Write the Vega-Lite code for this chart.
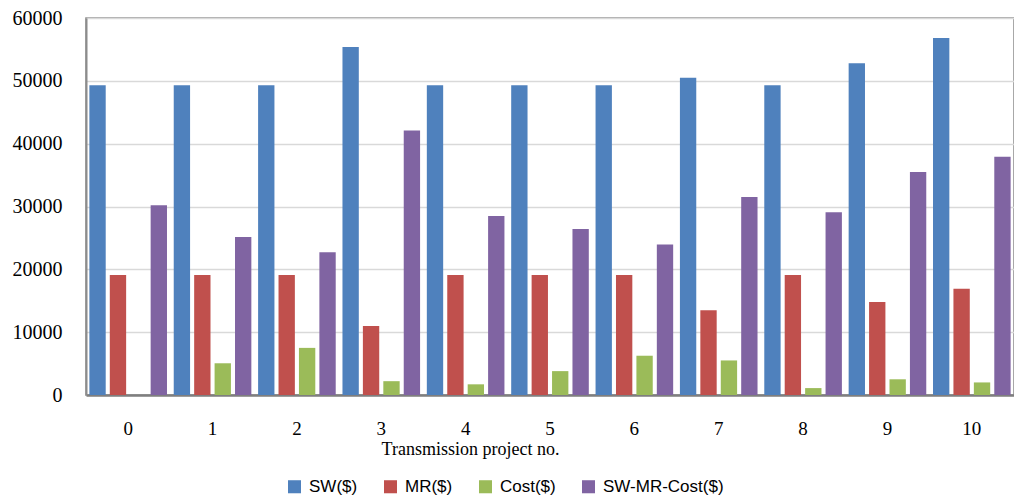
{
  "$schema": "https://vega.github.io/schema/vega-lite/v6.json",
  "width": 928,
  "height": 377,
  "padding": {"left": 12, "top": 8, "right": 0, "bottom": 0},
  "background": "white",
  "config": {
    "view": {"stroke": "#8c8c8c", "strokeWidth": 1.5}
  },
  "data": {
    "values": [
      {"project": "0", "series": "SW($)", "value": 49300},
      {"project": "0", "series": "MR($)", "value": 19100},
      {"project": "0", "series": "Cost($)", "value": 0},
      {"project": "0", "series": "SW-MR-Cost($)", "value": 30200},
      {"project": "1", "series": "SW($)", "value": 49300},
      {"project": "1", "series": "MR($)", "value": 19100},
      {"project": "1", "series": "Cost($)", "value": 5050},
      {"project": "1", "series": "SW-MR-Cost($)", "value": 25150},
      {"project": "2", "series": "SW($)", "value": 49300},
      {"project": "2", "series": "MR($)", "value": 19100},
      {"project": "2", "series": "Cost($)", "value": 7500},
      {"project": "2", "series": "SW-MR-Cost($)", "value": 22700},
      {"project": "3", "series": "SW($)", "value": 55400},
      {"project": "3", "series": "MR($)", "value": 11000},
      {"project": "3", "series": "Cost($)", "value": 2200},
      {"project": "3", "series": "SW-MR-Cost($)", "value": 42100},
      {"project": "4", "series": "SW($)", "value": 49300},
      {"project": "4", "series": "MR($)", "value": 19100},
      {"project": "4", "series": "Cost($)", "value": 1700},
      {"project": "4", "series": "SW-MR-Cost($)", "value": 28500},
      {"project": "5", "series": "SW($)", "value": 49300},
      {"project": "5", "series": "MR($)", "value": 19100},
      {"project": "5", "series": "Cost($)", "value": 3800},
      {"project": "5", "series": "SW-MR-Cost($)", "value": 26400},
      {"project": "6", "series": "SW($)", "value": 49300},
      {"project": "6", "series": "MR($)", "value": 19100},
      {"project": "6", "series": "Cost($)", "value": 6250},
      {"project": "6", "series": "SW-MR-Cost($)", "value": 23950},
      {"project": "7", "series": "SW($)", "value": 50500},
      {"project": "7", "series": "MR($)", "value": 13500},
      {"project": "7", "series": "Cost($)", "value": 5500},
      {"project": "7", "series": "SW-MR-Cost($)", "value": 31500},
      {"project": "8", "series": "SW($)", "value": 49300},
      {"project": "8", "series": "MR($)", "value": 19100},
      {"project": "8", "series": "Cost($)", "value": 1100},
      {"project": "8", "series": "SW-MR-Cost($)", "value": 29100},
      {"project": "9", "series": "SW($)", "value": 52800},
      {"project": "9", "series": "MR($)", "value": 14800},
      {"project": "9", "series": "Cost($)", "value": 2500},
      {"project": "9", "series": "SW-MR-Cost($)", "value": 35500},
      {"project": "10", "series": "SW($)", "value": 56800},
      {"project": "10", "series": "MR($)", "value": 16900},
      {"project": "10", "series": "Cost($)", "value": 2000},
      {"project": "10", "series": "SW-MR-Cost($)", "value": 37900}
    ]
  },
  "mark": {"type": "bar"},
  "encoding": {
    "x": {
      "field": "project", "type": "nominal", "sort": null,
      "scale": {"paddingInner": 0.08, "paddingOuter": 0.04},
      "axis": {"title": "Transmission project no.", "titleFont": "Liberation Serif", "titleColor": "#000", "titleFontSize": 18, "titleFontWeight": "normal", "titlePadding": 2, "titleX": 384,
               "labelFont": "Liberation Serif", "labelColor": "#000",
               "labelAngle": 0, "labelFontSize": 19, "labelPadding": 24, "ticks": false,
               "domainColor": "#7f7f7f", "domainWidth": 2.5, "grid": false}
    },
    "xOffset": {
      "field": "series", "type": "nominal", "sort": ["SW($)", "MR($)", "Cost($)", "SW-MR-Cost($)"],
      "scale": {"paddingInner": 0.2, "paddingOuter": 0}
    },
    "y": {
      "field": "value", "type": "quantitative",
      "scale": {"domain": [0, 60000], "nice": false},
      "axis": {"title": null, "values": [0, 10000, 20000, 30000, 40000, 50000, 60000], "format": "d",
               "labelFont": "Liberation Serif", "labelColor": "#000",
               "labelFontSize": 20, "labelPadding": 24, "ticks": false, "domainColor": "#8c8c8c", "domainWidth": 2,
               "gridColor": "#d9d9d9", "gridWidth": 1.5}
    },
    "color": {
      "field": "series", "type": "nominal", "sort": ["SW($)", "MR($)", "Cost($)", "SW-MR-Cost($)"],
      "scale": {"domain": ["SW($)", "MR($)", "Cost($)", "SW-MR-Cost($)"], "range": ["#4f81bd", "#c0504d", "#9bbb59", "#8064a2"]},
      "legend": {"title": null, "orient": "none", "direction": "horizontal", "legendX": 200, "legendY": 460,
                 "symbolType": "square", "symbolSize": 170, "symbolStrokeWidth": 0, "symbolOpacity": 1,
                 "labelFont": "Liberation Sans", "labelFontSize": 17, "labelColor": "#000", "columnPadding": 24, "labelOffset": 6}
    }
  }
}
